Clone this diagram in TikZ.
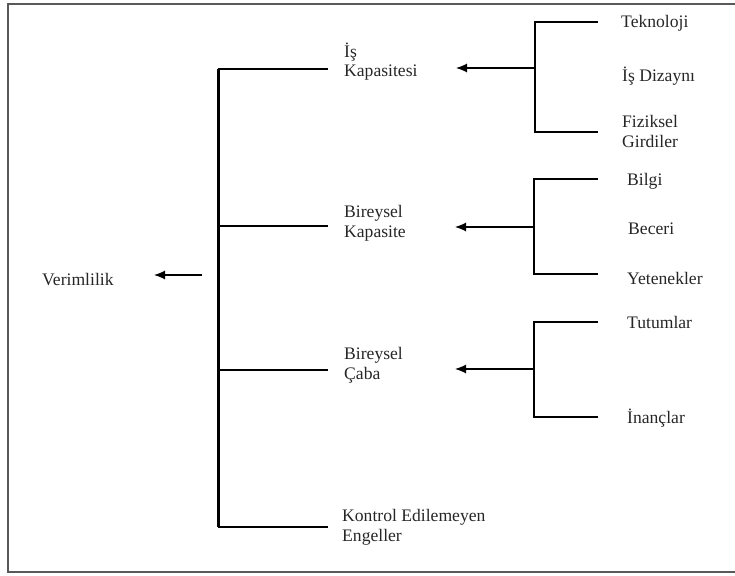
\documentclass[tikz,border=0pt]{standalone}
\usepackage{fontspec}
\setmainfont{Liberation Serif}
\usetikzlibrary{arrows.meta}

\begin{document}
\begin{tikzpicture}[x=1pt,y=-1pt,
    lbl/.style={anchor=base west,inner sep=0pt,align=left,
      font=\fontsize{17.6}{19.5}\selectfont,text=black!85},
    link/.style={line width=1.2pt},
    arr/.style={line width=1.2pt,-{Latex[length=11pt,width=9pt]}}]
    \useasboundingbox (0,0) rectangle (735,575);
    % frame (cut off on the right)
    \draw [black!65,line width=1.5pt] (740,4) -- (8,4) -- (8,572) -- (740,572);

    % main tree
    \node[lbl] (ver) at (42,285) {Verimlilik};
    \coordinate (vfrom) at (202,275);
    \coordinate (vto) at (154,275);
    \draw[arr] (vfrom) -- (vto);

    \coordinate (bartop) at (218,69);
    \coordinate (barbot) at (218,527);
    \draw [line width=3pt] (bartop) -- (barbot);

    % two-line labels: base is the last line
    \node[lbl] (kap) at (344,77) {İş\\Kapasitesi};
    \node[lbl] (bkap) at (344,237) {Bireysel\\Kapasite};
    \node[lbl] (caba) at (344,379) {Bireysel\\Çaba};
    \node[lbl] (eng) at (342,541) {Kontrol Edilemeyen\\Engeller};

    \coordinate (k1) at (328,69);
    \coordinate (b1) at (218,226);
    \coordinate (k2) at (328,226);
    \coordinate (b2) at (218,370);
    \coordinate (k3) at (328,370);
    \coordinate (k4) at (328,527);
    \draw[link] (bartop) -- (k1);
    \draw[link] (b1) -- (k2);
    \draw[link] (b2) -- (k3);
    \draw[link] (barbot) -- (k4);

    % is kapasitesi
    \node[lbl] (tek) at (621,28) {Teknoloji};
    \node[lbl] (diz) at (622,82) {İş Dizaynı};
    \node[lbl] (fiz) at (622,147) {Fiziksel\\Girdiler};
    \coordinate (t1) at (598,22);
    \coordinate (t2) at (598,132);
    \coordinate (tm) at (535,68);
    \coordinate (ta) at (456,68);
    \draw[link] (t1) -| (tm) |- (t2);
    \draw[arr] (tm) -- (ta);

    % bireysel kapasite
    \node[lbl] (bil) at (627,185) {Bilgi};
    \node[lbl] (bec) at (628,234) {Beceri};
    \node[lbl] (yet) at (627,284) {Yetenekler};
    \coordinate (u1) at (598,179);
    \coordinate (u2) at (598,274);
    \coordinate (um) at (534,227);
    \coordinate (ua) at (455,227);
    \draw[link] (u1) -| (um) |- (u2);
    \draw[arr] (um) -- (ua);

    % bireysel caba
    \node[lbl] (tut) at (627,328) {Tutumlar};
    \node[lbl] (ina) at (627,423) {İnançlar};
    \coordinate (w1) at (598,322);
    \coordinate (w2) at (598,417);
    \coordinate (wm) at (534,369);
    \coordinate (wa) at (455,369);
    \draw[link] (w1) -| (wm) |- (w2);
    \draw[arr] (wm) -- (wa);
  \end{tikzpicture}
\end{document}
